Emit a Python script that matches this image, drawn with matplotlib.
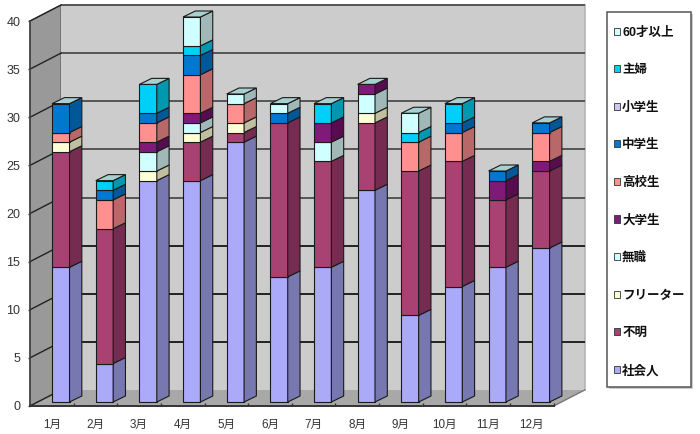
import matplotlib
matplotlib.use("Agg")
import matplotlib.pyplot as plt
from matplotlib.patches import Polygon, Patch, Rectangle

months = ["1月","2月","3月","4月","5月","6月","7月","8月","9月","10月","11月","12月"]
shakaijin = [14,4,23,23,27,13,14,22,9,12,14,16]
fumei     = [12,14,0,4,1,16,11,7,15,13,7,8]
freeter   = [1,0,1,1,1,0,0,1,0,0,0,0]
mushoku   = [0,0,2,1,0,0,2,2,0,0,0,0]
daigaku   = [0,0,1,1,0,0,2,1,0,0,2,1]
koukou    = [1,3,2,4,2,0,0,0,3,3,0,3]
chuugaku  = [3,1,1,2,0,1,0,0,0,1,1,1]
shougaku  = [0,0,0,0,0,0,0,0,0,0,0,0]
shufu     = [0,1,3,1,0,0,2,0,1,2,0,0]
over60    = [0,0,0,3,1,1,0,0,2,0,0,0]

names = ["社会人","不明","フリーター","無職","大学生","高校生","中学生","小学生","主婦","60才以上"]
series = [shakaijin,fumei,freeter,mushoku,daigaku,koukou,chuugaku,shougaku,shufu,over60]
fronts = ["#AAAAF8","#A84272","#FFFFD6","#D0FFFF","#801A78","#FF9090","#0078D0","#C8C8F0","#00D0F8","#D0FFFF"]
sides  = ["#7878B0","#762C50","#C0C0A0","#A0B8B8","#580C50","#B86868","#005898","#9090B0","#0098B0","#A0B8B8"]
top_col = "#A8D0D0"
yticks = [0,5,10,15,20,25,30,35,40]
font = ["Liberation Sans","Noto Sans CJK JP","DejaVu Sans"]

W,H = 700,434
fig = plt.figure(figsize=(W/100,H/100),dpi=100,facecolor="white")
L,R,T,B = 30,553.7,21,406
ax = fig.add_axes([L/W,1-B/H,(R-L)/W,(B-T)/H])
ax.set_xlim(0,12); ax.set_ylim(0,40)
ax.patch.set_visible(False)

px_x = (R-L)/12; px_y = (B-T)/40
WX,WY = 31,16
wx = WX/px_x; wy = WY/px_y
ax.add_patch(Polygon([(0,0),(wx,wy),(wx,40+wy),(0,40)],fc="#999999",ec="#555555",lw=0.8,clip_on=False,zorder=1))
ax.add_patch(Polygon([(wx,wy),(12+wx,wy),(12+wx,40+wy),(wx,40+wy)],fc="#CCCCCC",ec="none",clip_on=False,zorder=1))
ax.add_patch(Polygon([(0,0),(12,0),(12+wx,wy),(wx,wy)],fc="#A8A8A8",ec="none",clip_on=False,zorder=1))
ax.plot([12+wx,12+wx],[wy,40+wy],color="#B4B4B4",lw=1.2,clip_on=False,zorder=1.1)
ax.plot([12,12+wx],[0,wy],color="#777777",lw=1,clip_on=False,zorder=1.1)
for v in yticks[1:]:
    ax.plot([wx,12+wx],[v+wy,v+wy],color="#222222" if v<20 else "#555555",lw=1.4,clip_on=False,zorder=1.2,solid_capstyle="butt")
    ax.plot([0,wx],[v,v+wy],color="#222222",lw=1,clip_on=False,zorder=1.2)
ax.plot([0,wx],[0,wy],color="#222222",lw=1,clip_on=False,zorder=1.2)

BW = 17.4/px_x; DX = 12.3/px_x; DY = 6/px_y
SX,SY = 9/px_x,4/px_y
edge = "#1a1a1a"
for i in range(len(months)):
    x0 = i+0.5+SX-BW/2; x1 = x0+BW
    cum = SY
    for s,vals in enumerate(series):
        v = vals[i]
        if v == 0: continue
        ax.bar(x0,v,width=BW,bottom=cum,align="edge",color=fronts[s],edgecolor=edge,linewidth=0.8,zorder=3,clip_on=False)
        ax.add_patch(Polygon([(x1,cum),(x1+DX,cum+DY),(x1+DX,cum+v+DY),(x1,cum+v)],fc=sides[s],ec=edge,lw=0.8,zorder=3,clip_on=False))
        cum += v
    ax.add_patch(Polygon([(x0,cum),(x1,cum),(x1+DX,cum+DY),(x0+DX,cum+DY)],fc=top_col,ec=edge,lw=0.8,zorder=3,clip_on=False))

for s in ["top","right"]: ax.spines[s].set_visible(False)
ax.spines["left"].set_color("#444444"); ax.spines["left"].set_linewidth(1.2)
ax.spines["bottom"].set_color("#333333"); ax.spines["bottom"].set_linewidth(1.4)
ax.spines["left"].set_zorder(2); ax.spines["bottom"].set_zorder(2)
ax.set_xticks([i+0.5 for i in range(12)])
ax.set_xticklabels(months,family=font,fontsize=8.4,color="#333333")
ax.set_xticks(range(13),minor=True)
ax.tick_params(axis="x",which="major",length=0,pad=9)
ax.tick_params(axis="x",which="minor",length=2.5,direction="in",color="#333333",width=1)
ax.set_yticks(yticks)
ax.set_yticklabels([str(v) for v in yticks],family=font,fontsize=9,color="#333333")
ax.tick_params(axis="y",length=1.5,width=1,color="#333333",pad=5.5)

fig.add_artist(Rectangle((608.5/W,1-388.5/H),84/W,375/H,transform=fig.transFigure,fc="#CCCCCC",ec="none"))
fig.add_artist(Rectangle((607/W,1-387/H),84/W,375/H,transform=fig.transFigure,fc="white",ec="#555555",lw=1.1))
handles = [Patch(fc=fronts[s],ec="#333333",lw=0.6) for s in range(len(names))][::-1]
leg = fig.legend(handles,names[::-1],loc="upper left",bbox_to_anchor=(614/W,1-26.5/H),
    bbox_transform=fig.transFigure,prop={"family":font,"size":9,"weight":"bold"},
    handlelength=0.5,handleheight=0.5,handletextpad=0.15,labelspacing=2.04,
    borderpad=0,borderaxespad=0,frameon=False,labelcolor="#111111")

fig.savefig("out.png",dpi=100,facecolor="white")
